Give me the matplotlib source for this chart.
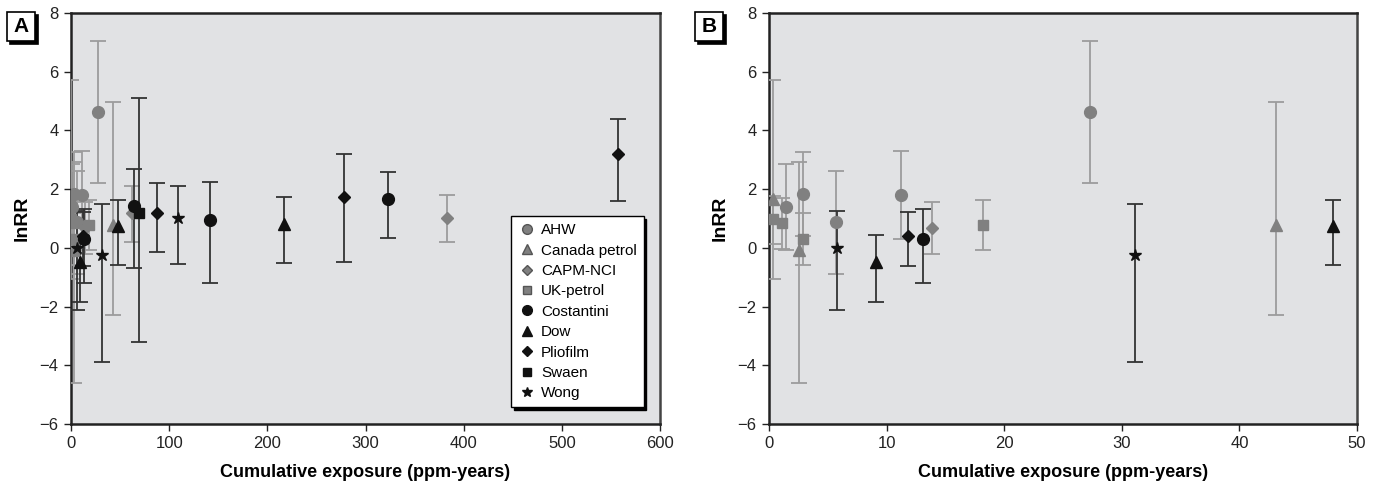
import matplotlib
matplotlib.use("Agg")
import matplotlib.pyplot as plt
from matplotlib.lines import Line2D
from matplotlib.patches import Rectangle

plt.rcParams['font.family'] = ['Liberation Sans', 'DejaVu Sans']

# study: (x, lnRR, lower, upper)
studies = ["AHW", "Canada petrol", "CAPM-NCI", "UK-petrol", "Costantini",
           "Dow", "Pliofilm", "Swaen", "Wong"]

ahw_x = [1.44, 2.86, 5.67, 11.19, 27.27]
ahw_y = [1.38, 1.84, 0.89, 1.80, 4.63]
ahw_lo = [-0.07, 0.40, -0.90, 0.29, 2.20]
ahw_hi = [2.86, 3.28, 2.63, 3.31, 7.03]

canada_x = [0.37, 2.58, 43.1]
canada_y = [1.67, -0.06, 0.78]
canada_lo = [-1.05, -4.60, -2.28]
canada_hi = [5.71, 2.92, 4.97]

capm_x = [13.85, 62.0, 383.0]
capm_y = [0.66, 1.18, 1.01]
capm_lo = [-0.20, 0.20, 0.19]
capm_hi = [1.56, 2.10, 1.81]

ukp_x = [0.37, 1.08, 2.86, 18.18]
ukp_y = [0.97, 0.86, 0.29, 0.77]
ukp_lo = [0.12, -0.03, -0.60, -0.08]
ukp_hi = [1.75, 1.70, 1.19, 1.63]

cost_x = [13.11, 64.1, 141.9, 323.0]
cost_y = [0.29, 1.44, 0.94, 1.66]
cost_lo = [-1.19, -0.67, -1.19, 0.35]
cost_hi = [1.33, 2.70, 2.23, 2.59]

dow_x = [9.07, 47.95, 217.0]
dow_y = [-0.47, 0.75, 0.81]
dow_lo = [-1.83, -0.60, -0.50]
dow_hi = [0.44, 1.64, 1.72]

plio_x = [11.84, 87.7, 278.0, 557.0]
plio_y = [0.39, 1.18, 1.73, 3.20]
plio_lo = [-0.61, -0.14, -0.47, 1.61]
plio_hi = [1.21, 2.20, 3.21, 4.39]

swaen_x = [68.9]
swaen_y = [1.18]
swaen_lo = [-3.19]
swaen_hi = [5.09]

wong_x = [5.75, 31.12, 108.5]
wong_y = [-0.01, -0.24, 1.01]
wong_lo = [-2.13, -3.89, -0.54]
wong_hi = [1.27, 1.50, 2.11]

data = [
    (ahw_x, ahw_y, ahw_lo, ahw_hi),
    (canada_x, canada_y, canada_lo, canada_hi),
    (capm_x, capm_y, capm_lo, capm_hi),
    (ukp_x, ukp_y, ukp_lo, ukp_hi),
    (cost_x, cost_y, cost_lo, cost_hi),
    (dow_x, dow_y, dow_lo, dow_hi),
    (plio_x, plio_y, plio_lo, plio_hi),
    (swaen_x, swaen_y, swaen_lo, swaen_hi),
    (wong_x, wong_y, wong_lo, wong_hi),
]

markers = ["o", "^", "D", "s", "o", "^", "D", "s", "*"]
msizes = [8.5, 8.5, 6.5, 7.5, 8.5, 8.5, 6.5, 7.5, 9]
gray = "#808080"
gray_err = "#9c9c9c"
black = "#111111"
black_err = "#333333"

W, H = 1378, 488
fig = plt.figure(figsize=(W / 100, H / 100), dpi=100)
axA = fig.add_axes([71 / W, 1 - 424 / H, 589 / W, 411 / H])
axB = fig.add_axes([769 / W, 1 - 424 / H, 588 / W, 411 / H])

for ax, xmax, xticks in [(axA, 600, range(0, 601, 100)), (axB, 50, range(0, 51, 10))]:
    ax.set_facecolor("#e1e2e4")
    for i, (xs, ys, lo, hi) in enumerate(data):
        is_gray = i < 4
        mc = gray if is_gray else black
        ec = gray_err if is_gray else black_err
        yerr = [[y - l for y, l in zip(ys, lo)], [h - y for y, h in zip(ys, hi)]]
        ax.errorbar(xs, ys, yerr=yerr, fmt=markers[i], ms=msizes[i], mfc=mc, mec=mc,
                    ecolor=ec, elinewidth=1.3, capsize=6, capthick=1.3, zorder=3)
    ax.set_xlim(0, xmax)
    ax.set_ylim(-6, 8)
    ax.set_xticks(list(xticks))
    ax.set_yticks(range(-6, 9, 2))
    ax.set_yticklabels([str(v).replace("-", "\u2212") for v in range(-6, 9, 2)])
    ax.tick_params(labelsize=12, direction="out", length=5, width=1, colors="#222222", pad=4)
    for s in ["left", "bottom", "top"]:
        ax.spines[s].set_linewidth(1.8)
        ax.spines[s].set_color("#222222")
    ax.spines["right"].set_linewidth(1.8)
    ax.spines["right"].set_color("#444444")
    ax.set_ylabel("lnRR", fontsize=14, fontweight="bold", labelpad=6)
    ax.set_xlabel("Cumulative exposure (ppm-years)", fontsize=13, fontweight="bold", labelpad=9)

handles = []
for i, name in enumerate(studies):
    mc = gray if i < 4 else black
    handles.append(Line2D([], [], ls="none", marker=markers[i], ms=msizes[i] - 1.5,
                          mfc=mc, mec="#555555" if i < 4 else mc, label=name))
leg = axA.legend(handles=handles, loc="lower right", bbox_to_anchor=(0.985, 0.022),
                 fontsize=11, frameon=True, fancybox=False, handletextpad=0.3,
                 labelspacing=0.42, borderpad=0.45, handlelength=1.2,
                 shadow={"color": "black", "alpha": 1})
leg.get_frame().set_edgecolor("black")
leg.get_frame().set_linewidth(1.0)
leg.get_frame().set_facecolor("white")

# panel labels in boxes with drop shadow
for lbl, px in [("A", 7), ("B", 695)]:
    x0, y0, bw, bh = px / W, 1 - 41 / H, 28 / W, 29 / H
    fig.add_artist(Rectangle((x0 + 3 / W, y0 - 3 / H), bw, bh, transform=fig.transFigure,
                             fc="black", ec="black", lw=1.2))
    fig.add_artist(Rectangle((x0, y0), bw, bh, transform=fig.transFigure,
                             fc="white", ec="black", lw=1.2))
    fig.text(x0 + bw / 2, y0 + bh / 2, lbl, fontsize=15, fontweight="bold",
             ha="center", va="center", color="black")

fig.savefig("out.png", dpi=100)
